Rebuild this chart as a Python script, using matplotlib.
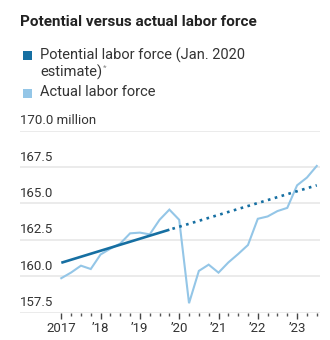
import matplotlib
matplotlib.use("Agg")
import matplotlib.pyplot as plt
from matplotlib.ticker import FixedLocator, FixedFormatter, NullFormatter
from matplotlib.transforms import blended_transform_factory, offset_copy

# Quarterly labor force, millions
quarters = ["2017Q1", "2017Q2", "2017Q3", "2017Q4",
            "2018Q1", "2018Q2", "2018Q3", "2018Q4",
            "2019Q1", "2019Q2", "2019Q3", "2019Q4",
            "2020Q1", "2020Q2", "2020Q3", "2020Q4",
            "2021Q1", "2021Q2", "2021Q3", "2021Q4",
            "2022Q1", "2022Q2", "2022Q3", "2022Q4",
            "2023Q1", "2023Q2", "2023Q3"]
actual = [159.87, 160.26, 160.73, 160.50,
          161.50, 161.90, 162.25, 162.95,
          163.00, 162.88, 163.88, 164.58,
          163.88, 158.15, 160.37, 160.80,
          160.25, 160.95, 161.53, 162.15,
          163.95, 164.11, 164.48, 164.70,
          166.25, 166.78, 167.58]

# Potential labor force (Jan. 2020 estimate): history and projection
potential_hist_q = ["2017Q1", "2019Q4"]
potential_hist = [160.93, 163.20]
potential_proj_q = ["2019Q4", "2023Q3"]
potential_proj = [163.20, 166.25]

y_ticks = [157.5, 160.0, 162.5, 165.0, 167.5, 170.0]
y_labels = ["157.5", "160.0", "162.5", "165.0", "167.5", "170.0 million"]
x_ticks = [2017, 2018, 2019, 2020, 2021, 2022, 2023]
x_labels = ["2017", "\u201918", "\u201919", "\u201920", "\u201921", "\u201922", "\u201923"]

DARK = "#166fa2"
LIGHT = "#94c6e7"
TEXT = "#333333"
GRID = "#e6e6e6"
FONT = "Roboto"


def qpos(q):
    return int(q[:4]) + (int(q[-1]) - 1) / 4


W, H = 330, 340
fig = plt.figure(figsize=(W / 100, H / 100), dpi=100)
fig.patch.set_facecolor("white")

left_px, right_px = 20, 320
top_px, bottom_px = 130.7, 312.7
ax = fig.add_axes([left_px / W, 1 - bottom_px / H,
                   (right_px - left_px) / W, (bottom_px - top_px) / H])

px_per_year = 39.3
x0_px = 61.3
ax.set_xlim(2017 - (x0_px - left_px) / px_per_year,
            2017 + (right_px - x0_px) / px_per_year)
ax.set_ylim(y_ticks[0], y_ticks[-1])

for s in ax.spines.values():
    s.set_visible(False)

for v in y_ticks:
    ax.axhline(v, color=GRID, lw=1.1, zorder=0)

# y labels sit above their gridlines, flush left
trans = offset_copy(blended_transform_factory(ax.transAxes, ax.transData),
                    fig=fig, x=0, y=2.5, units="points")
for v, lab in zip(y_ticks, y_labels):
    ax.text(0, v, lab, transform=trans, ha="left", va="bottom",
            fontsize=9.5, color=TEXT, family=FONT)
ax.set_yticks([])

# x axis: yearly major ticks, quarterly minor ticks
qx = [qpos(q) for q in quarters]
ax.xaxis.set_major_locator(FixedLocator(x_ticks))
ax.xaxis.set_major_formatter(FixedFormatter(x_labels))
ax.xaxis.set_minor_locator(FixedLocator(qx))
ax.xaxis.set_minor_formatter(NullFormatter())
ax.tick_params(axis="x", which="major", length=4, width=1, color="#444444",
               labelsize=9.5, labelcolor=TEXT, pad=3, direction="out")
ax.tick_params(axis="x", which="minor", length=2, width=1, color="#555555",
               direction="out")
for t in ax.get_xticklabels():
    t.set_family(FONT)

ax.plot(qx, actual, color=LIGHT, lw=1.5, solid_joinstyle="miter", zorder=2)
ax.plot([qpos(q) for q in potential_hist_q], potential_hist,
        color=DARK, lw=1.9, solid_capstyle="butt", zorder=3)
ax.plot([qpos(q) for q in potential_proj_q], potential_proj,
        color=DARK, lw=1.9, linestyle=(1.5, (1, 1.7)), zorder=3)

# title and legend
fig.text(20 / W, 1 - 21.5 / H, "Potential versus actual labor force",
         ha="left", va="center", fontsize=11, fontweight="bold",
         color="#222222", family=FONT)

def square(y_px, color):
    fig.patches.append(plt.Rectangle((22.5 / W, 1 - (y_px + 4.5) / H),
                                     9 / W, 9 / H, transform=fig.transFigure,
                                     facecolor=color, edgecolor="none"))

square(55.5, DARK)
square(93, LIGHT)
fig.text(40 / W, 1 - 55 / H, "Potential labor force (Jan. 2020",
         ha="left", va="center", fontsize=10.5, color=TEXT, family=FONT)
est = fig.text(40 / W, 1 - 72.5 / H, "estimate)",
               ha="left", va="center", fontsize=10.5, color=TEXT, family=FONT)
fig.text(40 / W, 1 - 92.5 / H, "Actual labor force",
         ha="left", va="center", fontsize=10.5, color=TEXT, family=FONT)

fig.canvas.draw()
bb = est.get_window_extent()
fig.text((bb.x1 + 1) / W, 1 - 67.5 / H, "*", ha="left", va="center",
         fontsize=6, color="#888888", family=FONT)

fig.savefig("out.png", dpi=100, facecolor="white")
